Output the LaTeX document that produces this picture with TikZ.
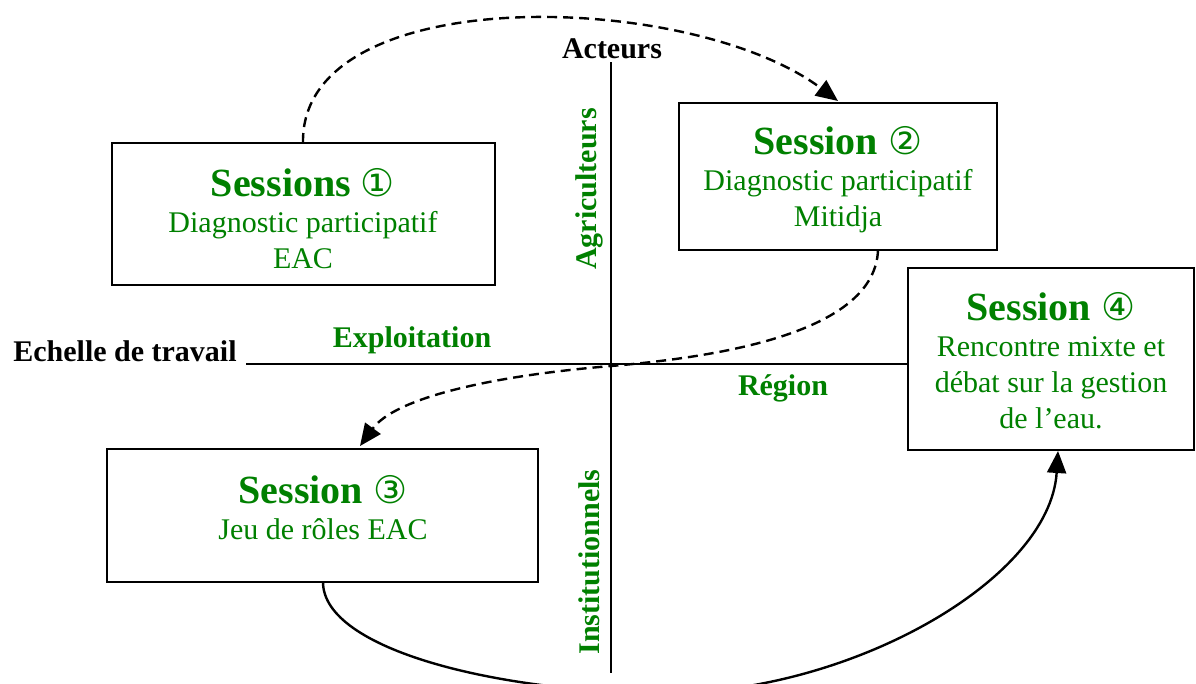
\documentclass[tikz,border=0pt]{standalone}
\usepackage{fontspec}
\setmainfont{Liberation Serif}
\newfontfamily\circfont{DejaVu Sans}
\usetikzlibrary{arrows.meta}
\definecolor{dgreen}{RGB}{0,128,0}
\newcommand\sessiontitle[2]{{\fontsize{40}{37}\selectfont\bfseries #1 {\circfont\mdseries\fontsize{38}{37}\selectfont #2}}}
\begin{document}
\begin{tikzpicture}[x=1pt,y=-1pt,
  box/.style={draw, line width=2.4pt, rectangle, inner sep=0pt},
  boxtext/.style={text=dgreen, align=center, inner sep=0pt, font=\fontsize{30}{36}\selectfont},
  axis/.style={line width=1.8pt},
  lbl/.style={font=\fontsize{30}{36}\selectfont\bfseries, inner sep=0pt, anchor=base},
  glbl/.style={lbl, text=dgreen},
  flow/.style={line width=2.4pt, -{Triangle[length=22pt,width=19pt]}},
  dflow/.style={flow, dash pattern=on 10pt off 6pt}]
\clip (0,0) rectangle (1196,683);
\useasboundingbox (0,0) rectangle (1196,683);
% boxes
\node[box, minimum width=383pt, minimum height=142pt] (b1) at (303.5,214) {};
\node[box, minimum width=318pt, minimum height=147pt] (b2) at (838,176.5) {};
\node[box, minimum width=431pt, minimum height=133pt] (b3) at (322.5,515.5) {};
\node[box, minimum width=286pt, minimum height=182pt] (b4) at (1051,359) {};
% box texts
\node[boxtext] (t1) at (303,219) {\sessiontitle{Sessions}{①}\\Diagnostic participatif\\EAC};
\node[boxtext] (t2) at (838,180) {\sessiontitle{Session}{②}\\Diagnostic participatif\\Mitidja};
\node[boxtext] (t3) at (323,508) {\sessiontitle{Session}{③}\\Jeu de rôles EAC};
\node[boxtext] (t4) at (1051,361) {\sessiontitle{Session}{④}\\Rencontre mixte et\\débat sur la gestion\\de l’eau.};
% axes labels
\node[lbl] (acteurs) at (612,58) {Acteurs};
\node[lbl] (echelle) at (125,361) {Echelle de travail};
\node[glbl] (exploit) at (412,347) {Exploitation};
\node[glbl] (region) at (783,395) {Région};
\node[glbl, rotate=90, anchor=center] (agri) at (589,189) {Agriculteurs};
\node[glbl, rotate=90, anchor=center] (inst) at (589,562) {Institutionnels};
% axes
\coordinate (vtop) at (611,62);
\coordinate (vbot) at (611,673);
\coordinate (hleft) at (246,364);
\draw[axis] (vtop) -- (vbot);
\draw[axis] (hleft) -- (b4.west |- hleft);
% flows
\coordinate (s1) at (303,143);
\coordinate (e1) at (838,101);
\draw[dflow] (s1) .. controls (300,-20) and (690,-10) .. (e1);
\coordinate (s2) at (878,250);
\coordinate (m2) at (611,366);
\coordinate (e2) at (360,446);
\draw[dflow] (s2) .. controls (875,330) and (730,356) .. (m2) .. controls (490,376) and (395,398) .. (e2);
\coordinate (s3) at (323,582);
\coordinate (m3) at (667,693);
\coordinate (e3) at (1058,451);
\draw[flow] (s3) .. controls (323,650) and (500,693) .. (m3) .. controls (850,693) and (1050,580) .. (e3);
\end{tikzpicture}
\end{document}
